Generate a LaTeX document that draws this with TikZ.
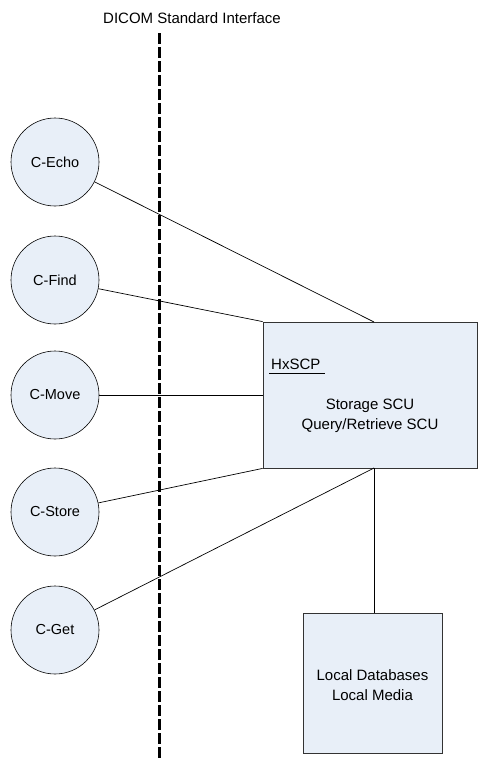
\documentclass[tikz,border=0pt]{standalone}
\usepackage{fontspec}
\setmainfont{Liberation Sans}
\definecolor{boxfill}{RGB}{232,239,248}
\begin{document}
\begin{tikzpicture}[x=1pt,y=-1pt,
  svc/.style={circle,draw=black,fill=boxfill,line width=0.6pt,minimum size=88pt,inner sep=0pt,font=\fontsize{14.5}{16}\selectfont},
  block/.style={draw=black!80,fill=boxfill,line width=0.8pt,inner sep=0pt},
  link/.style={draw=black,line width=0.7pt},
  lbl/.style={font=\fontsize{15}{19.5}\selectfont,align=center}]
\useasboundingbox (0,0) rectangle (478,758);
% interface line
\coordinate (itop) at (159,33);
\coordinate (ibot) at (159,758);
\draw[line width=3pt,dash pattern=on 11pt off 3pt] (itop) -- (ibot);
\node[font=\fontsize{15}{16}\selectfont,anchor=base] (title) at (192,23) {DICOM Standard Interface};
% services
\node[svc] (echo) at (55,162) {C-Echo};
\node[svc] (find) at (55,280) {C-Find};
\node[svc] (move) at (55,395) {C-Move};
\node[svc] (store) at (55,512) {C-Store};
\node[svc] (get) at (55,630) {C-Get};
% main box
\node[block,minimum width=214pt,minimum height=146pt] (hx) at (370,395) {};
\node[lbl,anchor=base west,inner sep=0pt] (hxname) at (271,369) {HxSCP};
\draw[line width=0.7pt] (269,373) -- (325,373);
\node[lbl] (hxtext) at (370,416) {Storage SCU\\Query/Retrieve SCU};
% local box
\node[block,minimum width=139pt,minimum height=140pt] (local) at (372.5,683) {};
\node[lbl] (localtext) at (372.5,685) {Local Databases\\Local Media};
% connectors
\coordinate (hxtop) at (374,322);
\coordinate (hxbot) at (374,468);
\coordinate (localtop) at (374,613);
\draw[link] (echo) -- (hxtop);
\draw[link] (find) -- (hx.north west);
\draw[link] (move) -- (hx.west);
\draw[link] (store) -- (hx.south west);
\draw[link] (get) -- (hxbot);
\draw[link] (hxbot) -- (localtop);
\end{tikzpicture}
\end{document}
